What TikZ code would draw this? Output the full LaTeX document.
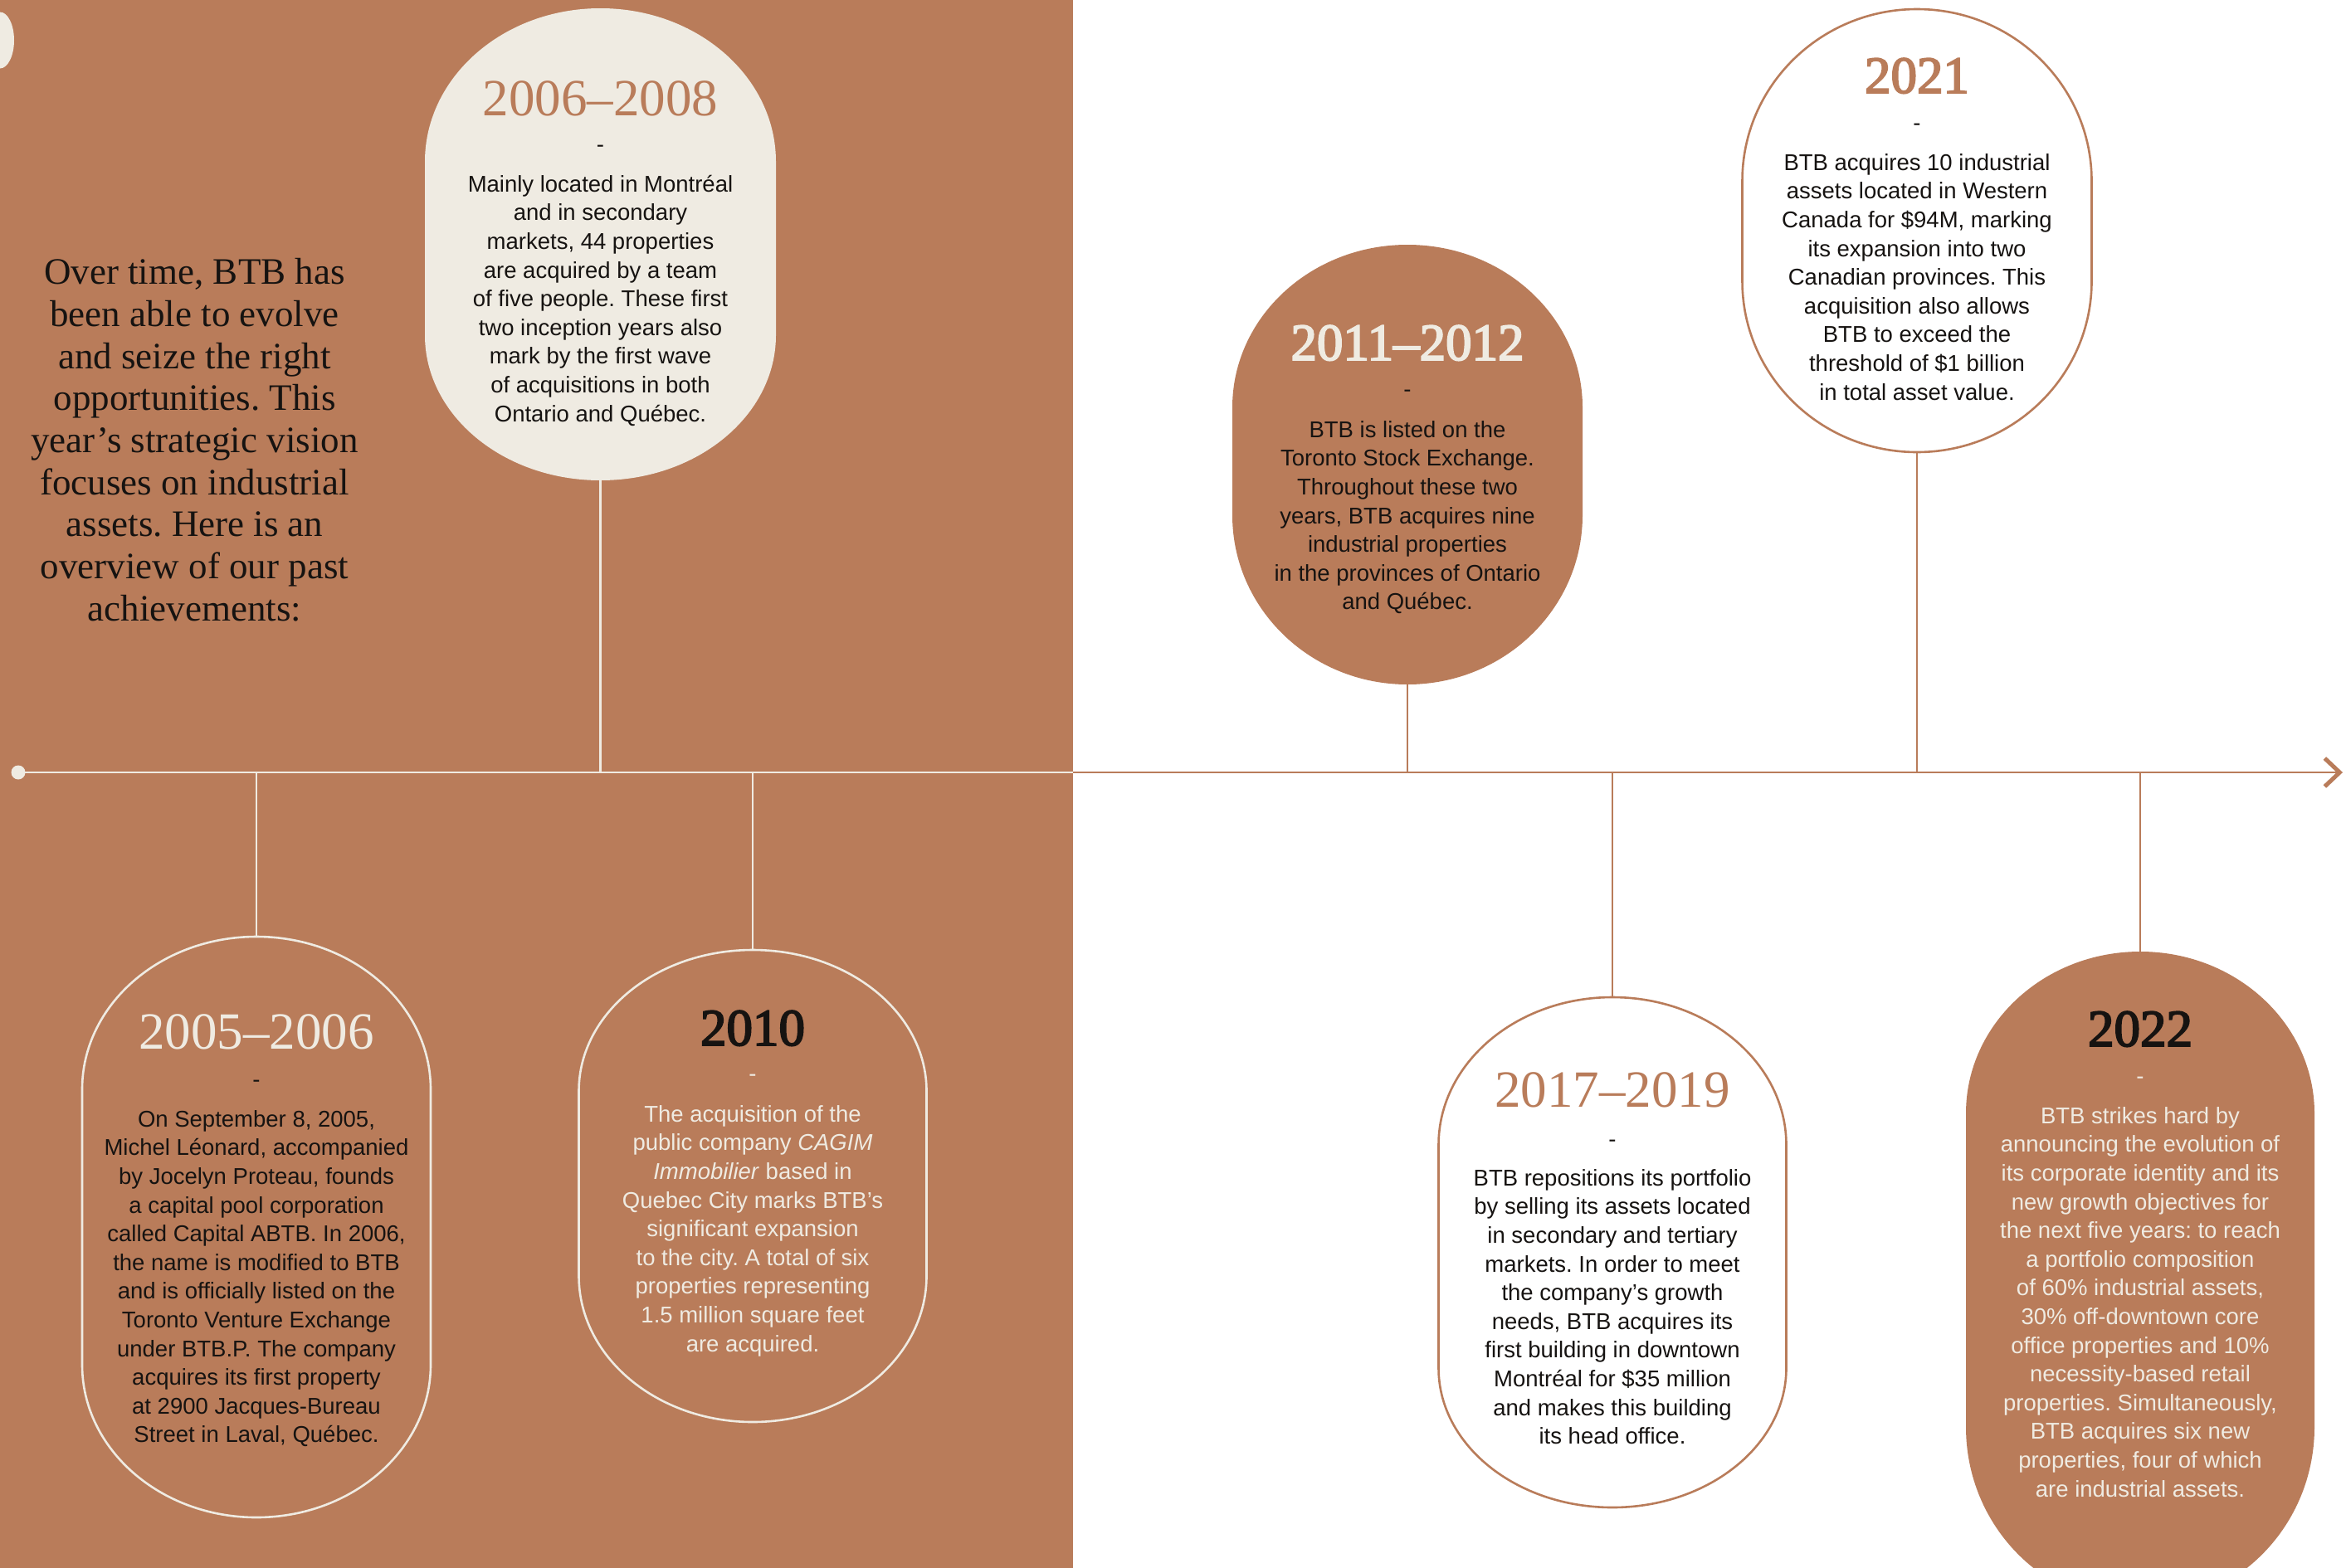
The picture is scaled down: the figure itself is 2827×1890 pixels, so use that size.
\documentclass[tikz,border=0pt]{standalone}
\usepackage{fontspec}
\setmainfont{Liberation Serif}
\newfontfamily\bodysans{Liberation Sans}
\newfontfamily\headsemi[Ligatures=TeX,FakeBold=3]{Liberation Serif}
\usetikzlibrary{arrows.meta}
\definecolor{btbbrown}{RGB}{185,124,90}
\definecolor{btbcream}{RGB}{239,235,226}
\definecolor{inkblack}{RGB}{22,19,17}
\frenchspacing

% #1 name, #2 style, #3 cx, #4 rx, #5 top, #6 bottom, #7 ry top, #8 ry bottom
\newcommand\pillshape[8]{%
  \path[#2] ({#3-#4},{#5+#7})
    .. controls ({#3-#4},{#5+#7-0.5523*#7}) and ({#3-0.5523*#4},{#5}) .. ({#3},{#5})
    .. controls ({#3+0.5523*#4},{#5}) and ({#3+#4},{#5+#7-0.5523*#7}) .. ({#3+#4},{#5+#7})
    -- ({#3+#4},{#6-#8})
    .. controls ({#3+#4},{#6-#8+0.5523*#8}) and ({#3+0.5523*#4},{#6}) .. ({#3},{#6})
    .. controls ({#3-0.5523*#4},{#6}) and ({#3-#4},{#6-#8+0.5523*#8}) .. ({#3-#4},{#6-#8})
    -- cycle;
  \pgfmathsetmacro\pillw{2*#4}%
  \pgfmathsetmacro\pillh{#6-#5}%
  \node[inner sep=0, outer sep=0, minimum width=\pillw pt, minimum height=\pillh pt] (#1) at ({#3},{(#5+#6)/2}) {};%
}
\newcommand\firstl{\rule{0pt}{26pt}}

\begin{document}
\begin{tikzpicture}[x=1pt,y=-1pt,
  head/.style={font=\fontsize{63}{70}\selectfont, anchor=base, inner sep=0},
  headbold/.style={font=\headsemi\fontsize{63}{70}\selectfont, anchor=base, inner sep=0},
  dashmark/.style={font=\bodysans\fontsize{27.5}{34.6}\selectfont, anchor=base, inner sep=0},
  bodytext/.style={font=\bodysans\fontsize{27.5}{34.6}\selectfont, align=center, anchor=north, inner sep=0},
  intro/.style={font=\fontsize{45}{50.7}\selectfont, align=center, anchor=north, inner sep=0, text=inkblack},
  lightline/.style={draw=btbcream, line width=2.5pt},
  darkline/.style={draw=btbbrown, line width=2.5pt},
  lightoutline/.style={draw=btbcream, line width=2.6pt},
  darkoutline/.style={draw=btbbrown, line width=2.6pt, fill=white},
  creamfill/.style={fill=btbcream},
  brownfill/.style={fill=btbbrown}
]
\useasboundingbox (0,0) rectangle (2827,1890);
\clip (0,0) rectangle (2827,1890);
\fill[white] (0,0) rectangle (2827,1890);
\fill[btbbrown] (0,0) rectangle (1293,1890);
\fill[btbcream] (0,48.5) ellipse [x radius=17, y radius=34];

% timeline
\node[circle, fill=btbcream, minimum size=17pt, inner sep=0] (dot) at (22,931) {};
\coordinate (split) at (1293,931);
\coordinate (tip) at (2823,931);
\draw[draw=btbcream, line width=2.7pt] (dot.center) -- (split);
\draw[draw=btbbrown, line width=2.7pt, -{Straight Barb[length=18pt, width=34pt, line width=5pt]}] (split) -- (tip);

\coordinate (j1) at (723.5,931);
\coordinate (j2) at (309,931);
\coordinate (j3) at (907,931);
\coordinate (j4) at (1696,931);
\coordinate (j5) at (2310,931);
\coordinate (j6) at (1943,931);
\coordinate (j7) at (2579,931);

% pills
\pillshape{p1}{creamfill}{723.5}{211.5}{10}{579}{185}{175}
\pillshape{p2}{lightoutline}{309}{210}{1129}{1829}{184}{184}
\pillshape{p3}{lightoutline}{907}{209.5}{1145}{1714}{170}{176}
\pillshape{p4}{brownfill}{1696}{211}{295}{825}{196}{204}
\pillshape{p5}{darkoutline}{2310}{210.5}{11}{545}{207}{206}
\pillshape{p6}{darkoutline}{1943}{209.5}{1202}{1817}{178}{168}
\pillshape{p7}{brownfill}{2579}{210}{1147}{1935}{195}{215}

% connectors
\draw[lightline] (p1.south) -- (j1);
\draw[lightline] (j2) -- (p2.north);
\draw[lightline] (j3) -- (p3.north);
\draw[darkline] (p4.south) -- (j4);
\draw[darkline] (p5.south) -- (j5);
\draw[darkline] (j6) -- (p6.north);
\draw[darkline] (j7) -- (p7.north);

% intro text
\node[intro] (introtext) at (234.5,302.5) {\rule{0pt}{40pt}Over time, BTB has\\
been able to evolve\\
and seize the right\\
opportunities. This\\
year’s strategic vision\\
focuses on industrial\\
assets. Here is an\\
overview of our past\\
achievements:};

% 2006-2008
\node[head, text=btbbrown] (h1) at (723.5,139) {2006–2008};
\node[dashmark, text=inkblack] (d1) at (723.5,183) {-};
\node[bodytext, text=inkblack] (b1) at (723.5,205) {\firstl Mainly located in Montréal\\
and in secondary\\
markets, 44 properties\\
are acquired by a team\\
of five people. These first\\
two inception years also\\
mark by the first wave\\
of acquisitions in both\\
Ontario and Québec.};

% 2005-2006
\node[head, text=btbcream] (h2) at (309,1264) {2005–2006};
\node[dashmark, text=inkblack] (d2) at (309,1310) {-};
\node[bodytext, text=inkblack] (b2) at (309,1332) {\firstl On September 8, 2005,\\
Michel Léonard, accompanied\\
by Jocelyn Proteau, founds\\
a capital pool corporation\\
called Capital ABTB. In 2006,\\
the name is modified to BTB\\
and is officially listed on the\\
Toronto Venture Exchange\\
under BTB.P. The company\\
acquires its first property\\
at 2900 Jacques-Bureau\\
Street in Laval, Québec.};

% 2010
\node[headbold, text=inkblack] (h3) at (907,1260) {2010};
\node[dashmark, text=btbcream] (d3) at (907,1303) {-};
\node[bodytext, text=btbcream] (b3) at (907,1326) {\firstl The acquisition of the\\
public company \textit{CAGIM}\\
\textit{Immobilier} based in\\
Quebec City marks BTB’s\\
significant expansion\\
to the city. A total of six\\
properties representing\\
1.5 million square feet\\
are acquired.};

% 2011-2012
\node[headbold, text=btbcream] (h4) at (1696,434) {2011–2012};
\node[dashmark, text=inkblack] (d4) at (1696,478) {-};
\node[bodytext, text=inkblack] (b4) at (1696,501) {\firstl BTB is listed on the\\
Toronto Stock Exchange.\\
Throughout these two\\
years, BTB acquires nine\\
industrial properties\\
in the provinces of Ontario\\
and Québec.};

% 2021
\node[headbold, text=btbbrown] (h5) at (2310,112) {2021};
\node[dashmark, text=inkblack] (d5) at (2310,157) {-};
\node[bodytext, text=inkblack] (b5) at (2310,179) {\firstl BTB acquires 10 industrial\\
assets located in Western\\
Canada for \$94M, marking\\
its expansion into two\\
Canadian provinces. This\\
acquisition also allows\\
BTB to exceed the\\
threshold of \$1 billion\\
in total asset value.};

% 2017-2019
\node[head, text=btbbrown] (h6) at (1943,1334) {2017–2019};
\node[dashmark, text=inkblack] (d6) at (1943,1382) {-};
\node[bodytext, text=inkblack] (b6) at (1943,1403) {\firstl BTB repositions its portfolio\\
by selling its assets located\\
in secondary and tertiary\\
markets. In order to meet\\
the company’s growth\\
needs, BTB acquires its\\
first building in downtown\\
Montréal for \$35 million\\
and makes this building\\
its head office.};

% 2022
\node[headbold, text=inkblack] (h7) at (2579,1261) {2022};
\node[dashmark, text=btbcream] (d7) at (2579,1306) {-};
\node[bodytext, text=btbcream] (b7) at (2579,1328) {\firstl BTB strikes hard by\\
announcing the evolution of\\
its corporate identity and its\\
new growth objectives for\\
the next five years: to reach\\
a portfolio composition\\
of 60\% industrial assets,\\
30\% off-downtown core\\
office properties and 10\%\\
necessity-based retail\\
properties. Simultaneously,\\
BTB acquires six new\\
properties, four of which\\
are industrial assets.};
\end{tikzpicture}
\end{document}
